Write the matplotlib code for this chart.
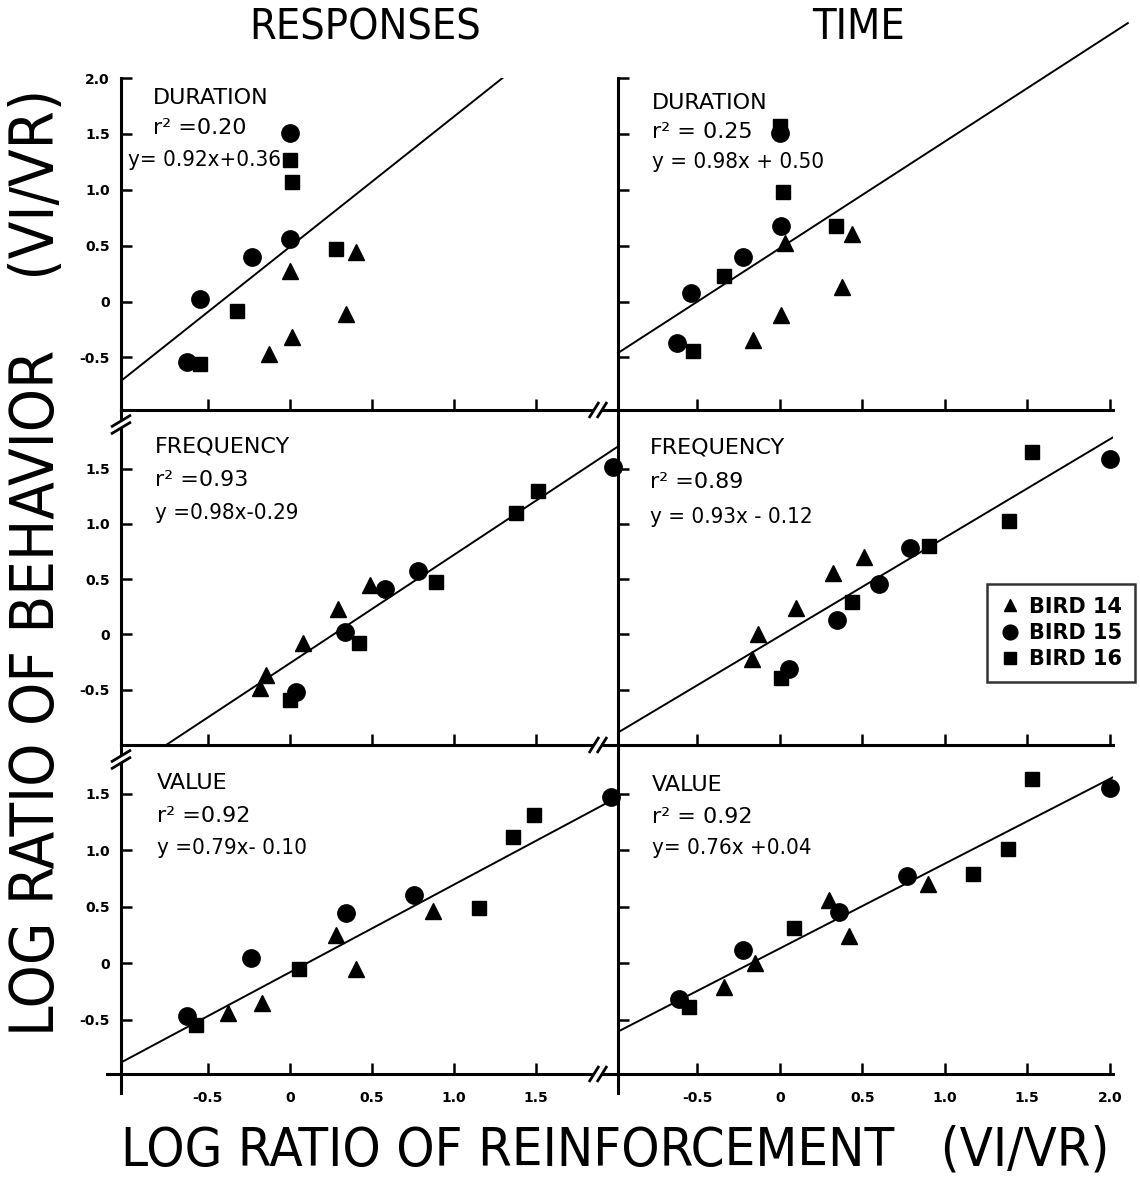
import matplotlib.pyplot as plt
from matplotlib.lines import Line2D
from matplotlib.patches import Polygon

# ────────────────────────────────
# Data: (x, y) per bird, per panel
# ────────────────────────────────
# Responses / Duration
RD_B14 = ([-0.13, 0.01, 0.00, 0.34, 0.40], [-0.47, -0.32, 0.27, -0.11, 0.44])
RD_B15 = ([-0.63, -0.55, -0.23, 0.00, 0.00], [-0.54, 0.02, 0.40, 0.56, 1.51])
RD_B16 = ([-0.55, -0.32, 0.00, 0.01, 0.28], [-0.56, -0.08, 1.27, 1.07, 0.47])
# Time / Duration
TD_B14 = ([-0.16, 0.01, 0.03, 0.38, 0.44], [-0.34, -0.12, 0.52, 0.13, 0.60])
TD_B15 = ([-0.62, -0.535, -0.22, 0.01, 0.00], [-0.37, 0.08, 0.40, 0.68, 1.51])
TD_B16 = ([-0.525, -0.34, 0.00, 0.02, 0.34], [-0.44, 0.23, 1.57, 0.98, 0.68])
# Responses / Frequency
RF_B14 = ([-0.18, -0.145, 0.08, 0.295, 0.49], [-0.48, -0.37, -0.08, 0.23, 0.45])
RF_B15 = ([0.036, 0.334, 0.58, 0.78, 1.97], [-0.52, 0.02, 0.41, 0.57, 1.51])
RF_B16 = ([0.00, 0.42, 0.89, 1.38, 1.51], [-0.59, -0.08, 0.47, 1.10, 1.30])
# Time / Frequency
TF_B14 = ([-0.17, -0.13, 0.10, 0.32, 0.51], [-0.22, 0.00, 0.24, 0.56, 0.70])
TF_B15 = ([0.056, 0.35, 0.60, 0.79, 2.00], [-0.315, 0.135, 0.46, 0.78, 1.585])
TF_B16 = ([0.01, 0.44, 0.905, 1.39, 1.53], [-0.39, 0.29, 0.80, 1.03, 1.65])
# Responses / Value
RV_B14 = ([-0.38, -0.17, 0.28, 0.405, 0.875], [-0.44, -0.35, 0.25, -0.05, 0.46])
RV_B15 = ([-0.627, -0.24, 0.34, 0.755, 1.96], [-0.47, 0.045, 0.44, 0.60, 1.47])
RV_B16 = ([-0.57, 0.057, 1.15, 1.36, 1.49], [-0.55, -0.05, 0.49, 1.12, 1.31])
# Time / Value
TV_B14 = ([-0.34, -0.15, 0.30, 0.42, 0.90], [-0.21, 0.00, 0.56, 0.24, 0.70])
TV_B15 = ([-0.61, -0.22, 0.36, 0.77, 2.00], [-0.315, 0.12, 0.45, 0.77, 1.55])
TV_B16 = ([-0.55, 0.087, 1.17, 1.385, 1.53], [-0.39, 0.31, 0.79, 1.01, 1.63])

# fitted lines as drawn (slope, intercept, x-start, x-end)
FITS = {
    "RD": (1.165, 0.49, -1.03, 1.30),
    "TD": (0.955, 0.476, -0.98, 2.11),
    "RF": (0.98, -0.26, -0.75, 2.00),
    "TF": (0.89, -0.015, -0.98, 2.03),
    "RV": (0.775, -0.08, -1.03, 1.96),
    "TV": (0.75, 0.13, -0.98, 2.05),
}

PANEL_TEXT = {
    "RD": ("DURATION", "r² =0.20", "y= 0.92x+0.36"),
    "TD": ("DURATION", "r² = 0.25", "y = 0.98x + 0.50"),
    "RF": ("FREQUENCY", "r² =0.93", "y =0.98x-0.29"),
    "TF": ("FREQUENCY", "r² =0.89", "y = 0.93x - 0.12"),
    "RV": ("VALUE", "r² =0.92", "y =0.79x- 0.10"),
    "TV": ("VALUE", "r² = 0.92", "y= 0.76x +0.04"),
}

BIRDS = ["BIRD 14", "BIRD 15", "BIRD 16"]
MARKERS = {"BIRD 14": ("^", 11), "BIRD 15": ("o", 12.5), "BIRD 16": ("s", 9.5)}

PANELS = [
    ["RD", "TD"],
    ["RF", "TF"],
    ["RV", "TV"],
]
PANEL_DATA = {
    "RD": (RD_B14, RD_B15, RD_B16), "TD": (TD_B14, TD_B15, TD_B16),
    "RF": (RF_B14, RF_B15, RF_B16), "TF": (TF_B14, TF_B15, TF_B16),
    "RV": (RV_B14, RV_B15, RV_B16), "TV": (TV_B14, TV_B15, TV_B16),
}

Y_TICKS = [-0.5, 0, 0.5, 1.0, 1.5]
X_TICKS_LEFT = [-0.5, 0, 0.5, 1.0, 1.5]
X_TICKS_RIGHT = [-0.5, 0, 0.5, 1.0, 1.5, 2.0]


def fmt(v):
    return "0" if v == 0 else f"{v:.1f}"


# ────────────────────────────────
# Layout (pixels)
# ────────────────────────────────
W, H = 1140, 1180
COLS = [(121, 618), (618, 1113)]
ROWS = [(78, 410), (410, 745), (745, 1074)]
XLIMS = [(-1.03, 2.0), (-0.98, 2.02)]
YLIMS = [(-0.97, 2.0), (-1.0, 2.03), (-0.98, 1.93)]
TEXT_POS = [  # axes fraction (x of title/r2, x of eq), (y of title, r2, eq)
    [((0.064, 0.014), (0.94, 0.85, 0.753)), ((0.069, 0.069), (0.925, 0.837, 0.747))],
    [((0.068, 0.068), (0.89, 0.79, 0.693)), ((0.065, 0.065), (0.887, 0.785, 0.68))],
    [((0.072, 0.072), (0.885, 0.784, 0.687)), ((0.069, 0.069), (0.879, 0.781, 0.687))],
]

plt.rcParams["font.family"] = ["DejaVu Sans"]
fig = plt.figure(figsize=(W / 100, H / 100), dpi=100)


def px_rect(x0, y0, x1, y1):
    return [x0 / W, 1 - y1 / H, (x1 - x0) / W, (y1 - y0) / H]


def fig_line(xs, ys, **kw):
    fig.add_artist(Line2D([x / W for x in xs], [1 - y / H for y in ys],
                          transform=fig.transFigure, color="black", **kw))


def fig_poly(pts):
    fig.add_artist(Polygon([(x / W, 1 - y / H) for x, y in pts], closed=True,
                           transform=fig.transFigure, facecolor="white",
                           edgecolor="none", zorder=9))


def x_break(cx, cy):
    # "//" mark on a horizontal axis
    a = [(cx - 9, cy + 8), (cx + 1, cy - 8)]
    b = [(cx - 1, cy + 8), (cx + 9, cy - 8)]
    fig_poly([a[0], a[1], b[1], b[0]])
    for s in (a, b):
        fig_line([s[0][0], s[1][0]], [s[0][1], s[1][1]], lw=2, zorder=10,
                 solid_capstyle="butt")


def y_break(cx, cy):
    # slanted double mark on a vertical axis
    a = [(cx - 10, cy + 3), (cx + 10, cy - 9)]
    b = [(cx - 10, cy + 10), (cx + 10, cy - 2)]
    fig_poly([a[0], a[1], b[1], b[0]])
    for s in (a, b):
        fig_line([s[0][0], s[1][0]], [s[0][1], s[1][1]], lw=2, zorder=10,
                 solid_capstyle="butt")


for r, row in enumerate(PANELS):
    for c, key in enumerate(row):
        x0, x1 = COLS[c]
        y0, y1 = ROWS[r]
        ax = fig.add_axes(px_rect(x0, y0, x1, y1))
        ax.patch.set_visible(False)
        ax.set_xlim(*XLIMS[c])
        ax.set_ylim(*YLIMS[r])
        for s in ("top", "right"):
            ax.spines[s].set_visible(False)
        for s in ("left", "bottom"):
            ax.spines[s].set_linewidth(2.2)

        xt = X_TICKS_LEFT if c == 0 else X_TICKS_RIGHT
        yt = Y_TICKS + ([2.0] if r == 0 else [])
        ax.set_xticks(xt)
        ax.set_yticks(yt)
        ax.set_xticklabels([fmt(v) for v in xt] if r == 2 else [])
        ax.set_yticklabels([fmt(v) for v in yt] if c == 0 else [])
        ax.tick_params(direction="in", length=8, width=1.8, labelsize=10, pad=8)
        ax.tick_params(axis="x", pad=12)
        for lab in ax.get_xticklabels() + ax.get_yticklabels():
            lab.set_fontweight("bold")

        # fitted line
        m, b, xa, xb = FITS[key]
        ax.plot([xa, xb], [m * xa + b, m * xb + b], color="black", lw=1.4,
                clip_on=(key != "TD"), zorder=2)

        # bird points
        for bird, (xs, ys) in zip(BIRDS, PANEL_DATA[key]):
            mk, ms = MARKERS[bird]
            ax.plot(xs, ys, ls="none", marker=mk, ms=ms, color="black",
                    clip_on=False, zorder=3)

        # labels
        (tx, ex), (ty, ry, ey) = TEXT_POS[r][c]
        title, r2, eq = PANEL_TEXT[key]
        ax.text(tx, ty, title, transform=ax.transAxes, fontsize=16,
                va="center", ha="left")
        ax.text(tx, ry, r2, transform=ax.transAxes, fontsize=16,
                va="center", ha="left")
        ax.text(ex, ey, eq, transform=ax.transAxes, fontsize=16,
                va="center", ha="left", stretch="condensed")

# axis extensions at the bottom
fig_line([121, 121], [1074, 1093], lw=2.2)
fig_line([107, 121], [1074, 1074], lw=2.2)
fig_line([618, 618], [1074, 1093], lw=2.2)

# axis breaks
for _, yb in ROWS:
    x_break(598, yb)
y_break(121, 424)
y_break(121, 759)

# legend
handles = [Line2D([], [], ls="none", marker=MARKERS[bd][0], color="black",
                  ms=MARKERS[bd][1] * 0.85) for bd in BIRDS]
leg = fig.legend(handles, BIRDS, loc="center",
                 bbox_to_anchor=(1061 / W, 1 - 633 / H),
                 bbox_transform=fig.transFigure, frameon=True, fancybox=False,
                 prop={"size": 15, "weight": "bold"}, handletextpad=0.4,
                 labelspacing=0.3, borderpad=0.6, handlelength=1.0)
leg.get_frame().set_edgecolor("black")
leg.get_frame().set_linewidth(1.8)

# column titles and axis titles
fig.text(365 / W, 1 - 27 / H, "RESPONSES", ha="center", va="center",
         fontsize=31, stretch="condensed")
fig.text(859 / W, 1 - 27 / H, "TIME", ha="center", va="center",
         fontsize=31, stretch="condensed")
fig.text(38 / W, 1 - 562 / H, "LOG RATIO OF BEHAVIOR    (VI/VR)", rotation=90,
         ha="center", va="center", fontsize=44, stretch="condensed")
fig.text(615 / W, 1 - 1150 / H, "LOG RATIO OF REINFORCEMENT   (VI/VR)",
         ha="center", va="center", fontsize=39, stretch="condensed")

fig.savefig("out.png", dpi=100)
